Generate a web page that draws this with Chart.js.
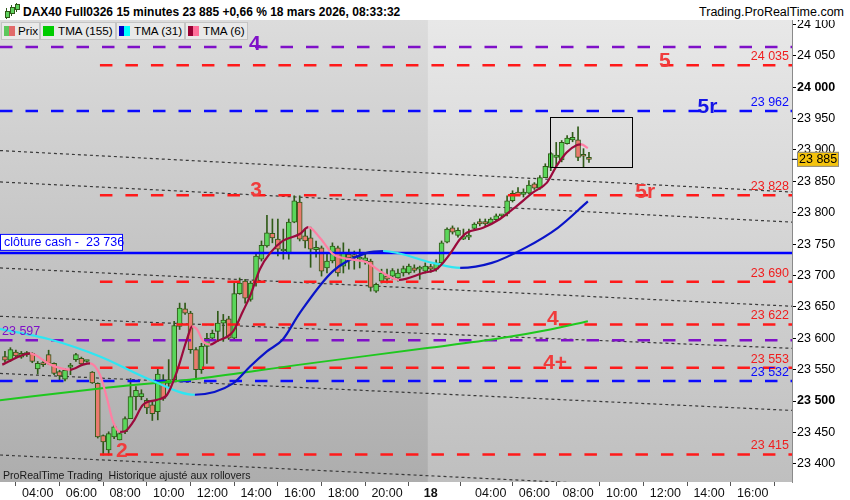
<!DOCTYPE html>
<html><head><meta charset="utf-8">
<script src="https://cdn.jsdelivr.net/npm/chart.js@4.4.1/dist/chart.umd.min.js"></script>
<style>
html,body{margin:0;padding:0;background:#fff;}
#wrap{position:relative;width:850px;height:500px;overflow:hidden;font-family:"Liberation Sans",Arial,sans-serif;}
#c{position:absolute;left:0;top:0;}
#hdr{position:absolute;left:0;top:0;width:850px;height:20px;background:#fff;}
#title{position:absolute;left:23px;top:4px;font-weight:bold;font-size:12px;line-height:16px;color:#000;white-space:nowrap;}
#site{position:absolute;right:6px;top:4px;font-size:12.5px;line-height:16px;color:#000;white-space:nowrap;}
#ico{position:absolute;left:4px;top:3px;width:16px;height:16px;}
#ico i{position:absolute;display:block;}
.lg{position:absolute;top:22px;height:16px;background:#e9e9e9;border:1px solid #c4c4c4;font-size:11.7px;line-height:16px;color:#000;white-space:nowrap;box-sizing:content-box;}
.lg .sw{position:absolute;left:2px;top:3px;height:10px;}
.lg .sw b{display:inline-block;height:10px;vertical-align:top;}
.lg span.t{position:absolute;top:0;}
#foot{position:absolute;left:3px;top:468px;font-size:10.6px;line-height:14px;color:#1a1a1a;white-space:pre;}
</style>
</head><body>
<div id="wrap">
<canvas id="c" width="850" height="500"></canvas>
<div id="hdr">
  <div id="ico">
    <i style="left:2px;top:5px;width:1px;height:11px;background:#2f5a17"></i>
    <i style="left:1px;top:8px;width:3px;height:5px;background:#5fd35f;border:1px solid #2f5a17"></i>
    <i style="left:7px;top:2px;width:1px;height:11px;background:#2f5a17"></i>
    <i style="left:6px;top:4px;width:3px;height:5px;background:#5fd35f;border:1px solid #2f5a17"></i>
    <i style="left:12px;top:0px;width:1px;height:9px;background:#2f5a17"></i>
    <i style="left:11px;top:1px;width:3px;height:4px;background:#5fd35f;border:1px solid #2f5a17"></i>
  </div>
  <div id="title">DAX40 Full0326 15 minutes 23 885 +0,66 % 18 mars 2026, 08:33:32</div>
  <div id="site">Trading.ProRealTime.com</div>
</div>
<div class="lg" style="left:1px;width:37px"><span class="sw"><b style="width:5px;background:#5cc85c"></b><b style="width:6px;background:#e26a6a"></b></span><span class="t" style="left:16px">Prix</span></div>
<div class="lg" style="left:40px;width:74px"><span class="sw"><b style="width:11px;background:#00cc00"></b></span><span class="t" style="left:17px">TMA (155)</span></div>
<div class="lg" style="left:116px;width:67px"><span class="sw"><b style="width:5px;background:#0000c8"></b><b style="width:6px;background:#00ffff"></b></span><span class="t" style="left:17px">TMA (31)</span></div>
<div class="lg" style="left:185px;width:61px"><span class="sw"><b style="width:5px;background:#990033"></b><b style="width:6px;background:#ff6f9a"></b></span><span class="t" style="left:17px">TMA (6)</span></div>
<div id="foot">ProRealTime Trading  Historique ajusté aux rollovers</div>
</div>
<script>
const FONT = '"Liberation Sans", Arial, sans-serif';

// ---- candles (15 min), index 0 = 17 mars 02:30 ... 107 = 18 mars 08:30
const opens  = [23571,23565,23578,23570,23574,23576,23551,23560,23574,23560,23547,23535,23554,23566,23568,23563,23546,23528,23445,23422,
                23443,23438,23451,23472,23507,23507,23501,23494,23483,23534,23528,23534,23619,23647,23640,23582,23550,23587,23600,23611,
                23624,23631,23600,23671,23691,23662,23688,23726,23747,23767,23758,23739,23736,23785,23817,23763,23760,23741,23744,23712,
                23723,23744,23715,23734,23731,23726,23723,23723,23675,23691,23699,23699,23696,23704,23704,23712,23710,23707,23714,23710,
                23720,23753,23776,23764,23758,23761,23775,23786,23786,23783,23789,23795,23799,23819,23833,23829,23831,23846,23839,23856,
                23872,23888,23884,23910,23916,23916,23893,23888];
const highs  = [23579,23585,23581,23579,23579,23577,23563,23566,23581,23561,23549,23552,23560,23576,23570,23565,23547,23529,23446,23451,
                23464,23451,23475,23536,23523,23518,23504,23499,23552,23542,23566,23627,23656,23656,23643,23585,23592,23608,23613,23643,
                23638,23635,23688,23696,23694,23691,23736,23755,23796,23790,23790,23774,23790,23827,23827,23774,23777,23755,23747,23736,
                23752,23747,23752,23742,23739,23742,23734,23726,23688,23710,23710,23711,23710,23715,23718,23717,23715,23720,23718,23725,
                23755,23776,23779,23776,23774,23774,23784,23790,23790,23792,23798,23797,23827,23835,23840,23838,23851,23848,23859,23878,
                23896,23912,23915,23923,23928,23937,23902,23896];
const lows   = [23562,23563,23569,23568,23571,23561,23543,23555,23558,23542,23534,23532,23542,23563,23558,23562,23528,23441,23414,23414,
                23440,23438,23448,23472,23486,23502,23480,23469,23470,23501,23523,23531,23614,23638,23576,23534,23544,23560,23598,23595,
                23595,23598,23598,23670,23656,23659,23683,23723,23745,23752,23731,23726,23726,23784,23755,23744,23713,23729,23699,23704,
                23720,23699,23704,23710,23710,23712,23718,23675,23673,23688,23688,23694,23691,23699,23702,23705,23694,23704,23705,23707,
                23718,23752,23766,23761,23757,23757,23773,23779,23779,23782,23787,23793,23795,23817,23827,23825,23830,23837,23837,23856,
                23867,23872,23881,23909,23913,23883,23873,23880];
const closes = [23565,23582,23572,23576,23576,23563,23560,23558,23560,23544,23540,23549,23555,23574,23559,23564,23529,23443,23435,23448,
                23459,23448,23472,23507,23517,23512,23489,23480,23543,23504,23534,23620,23648,23640,23582,23550,23587,23600,23608,23624,
                23629,23600,23671,23688,23664,23688,23731,23748,23768,23760,23742,23741,23785,23819,23758,23755,23742,23745,23707,23723,
                23747,23704,23736,23728,23730,23729,23728,23681,23686,23704,23694,23708,23704,23711,23715,23708,23711,23715,23710,23720,
                23752,23774,23769,23772,23762,23762,23782,23782,23782,23790,23795,23796,23819,23831,23828,23833,23844,23839,23856,23874,
                23894,23892,23912,23919,23920,23888,23890,23885];

// ---- moving averages (index, price)
const tma155X = [-1, 17.4, 35.7, 54.1, 77, 90.7, 99.9, 106.8];
const tma155Y = [23501, 23520, 23536, 23558, 23584, 23600, 23614, 23627];
const tma31X = [-1, 8.3, 17.4, 26.6, 34.8, 41.8, 44.9, 48, 50.9, 54, 60.1, 66.3, 69.3, 78.4, 83.4, 89.2, 95.3, 101.3, 106.8];
const tma31Y = [23615, 23598, 23571, 23534, 23510, 23528, 23555, 23579, 23598, 23640, 23707, 23736, 23739, 23720, 23712, 23720, 23744, 23776, 23818];
const tma6X = [-0.5, 4.6, 8.3, 11.9, 14.3, 15.6, 17.4, 18.7, 19.8, 21.1, 22, 23.5, 25.3, 27.9, 29.7, 31.5, 33.4, 34.3, 35.2, 36.3,
               37.6, 38.8, 41.8, 43.6, 44.9, 46.7, 48.6, 50.9, 54, 55.6, 57.7, 60.1, 63.2, 66.3, 68.7, 72.2, 76.6, 79.2, 81.5, 83.4,
               84.6, 87.6, 90.7, 93.8, 96.7, 99.3, 101.1, 102.9, 104.8, 105.6, 106.8];
const tma6Y = [23558, 23576, 23558, 23550, 23558, 23560, 23542, 23504, 23467, 23451, 23452, 23467, 23494, 23502, 23510, 23547, 23600, 23619, 23614, 23595,
               23590, 23595, 23611, 23643, 23667, 23710, 23736, 23755, 23766, 23777, 23760, 23734, 23726, 23721, 23707, 23693, 23704, 23711, 23734, 23758,
               23768, 23776, 23790, 23811, 23832, 23848, 23875, 23896, 23908, 23909, 23903];

// ---- horizontal levels and channel lines
const levelValues = [24064, 24035, 23962, 23828, 23736, 23690, 23622, 23597, 23553, 23532, 23415];
const levelKinds  = ['purple','red','blue','red','solid','red','red','purple','red','blue','red'];
const channelStart = [23899, 23849, 23712, 23635, 23544, 23414];
const channelEnd   = [23833, 23785, 23651, 23584, 23485, 23353];

// ---- axes
const yTicks = [23400,23450,23500,23550,23600,23650,23700,23750,23800,23850,23900,23950,24000,24050,24100];
const xTickIdx  = [6,14,22,30,38,46,54,62,70,78,89,97,105,113,121,129,137];
const xTickText = ['04:00','06:00','08:00','10:00','12:00','14:00','16:00','18:00','20:00','18','04:00','06:00','08:00','10:00','12:00','14:00','16:00'];

const lastPrice = 23885;
const X_MIN = -0.91, X_MAX = 144.2, Y_MIN = 23371, Y_MAX = 24107;
const DAY_SPLIT = 77.5, RED_START = 17.4;
const boxIdx = [99.9, 114.9], boxPrice = [23873, 23952];

const marks = [
  {text:'4',  idx:45.8,  price:24069, color:'#7f10c8'},
  {text:'5',  idx:120.9, price:24041, color:'#f03c3c'},
  {text:'5r', idx:128.7, price:23968, color:'#1414e6'},
  {text:'3',  idx:46,    price:23836, color:'#f03c3c'},
  {text:'5r', idx:117.3, price:23833, color:'#f03c3c'},
  {text:'4',  idx:100.4, price:23630, color:'#f03c3c'},
  {text:'4+', idx:100.8, price:23560, color:'#f03c3c'},
  {text:'2',  idx:21.4,  price:23420, color:'#f03c3c'}
];

const fmt = v => String(v).replace(/\B(?=(\d{3})+(?!\d))/g, ' ');

const KIND = {
  purple: {color:'#7f10c8', dash:[12.5,13], w:2.5},
  red:    {color:'#ff1a1a', dash:[12.5,13], w:2.5},
  blue:   {color:'#0a0aff', dash:[12.5,13], w:2.5},
  solid:  {color:'#0000ff', dash:[], w:2.5}
};

const UP = '#5ad65a', DOWN = '#ea7a6e', EDGE = '#2f5a17';
const idx = opens.map((_, i) => i);

const datasets = [];
channelStart.forEach((s, k) => {
  datasets.push({type:'line', data:[{x:X_MIN, y:s},{x:X_MAX, y:channelEnd[k]}], borderColor:'#3a3a3a',
    borderWidth:1.2, borderDash:[3,3], pointRadius:0, order:20});
});
datasets.push({type:'bar', data: idx.map(i => ({x:i, y:[lows[i], highs[i]]})), backgroundColor:EDGE,
  barThickness:1, grouped:false, order:15});
datasets.push({type:'bar', data: idx.map(i => ({x:i, y:[opens[i], closes[i]]})),
  backgroundColor: idx.map(i => closes[i] >= opens[i] ? UP : DOWN), borderColor:EDGE, borderWidth:1,
  borderSkipped:false, barThickness:5, minBarLength:2, grouped:false, order:14});
levelValues.forEach((v, k) => {
  const st = KIND[levelKinds[k]];
  const from = levelKinds[k] === 'red' ? RED_START : X_MIN;
  datasets.push({type:'line', data:[{x:from, y:v},{x:X_MAX, y:v}], borderColor:st.color, borderWidth:st.w,
    borderDash:st.dash, pointRadius:0, order:10});
});
const slopeColor = (up, down) => c => c.p1.parsed.y >= c.p0.parsed.y ? up : down;
datasets.push({type:'line', data: tma155X.map((x, k) => ({x, y:tma155Y[k]})), borderColor:'#1ec81e', borderWidth:2,
  pointRadius:0, cubicInterpolationMode:'monotone', order:3});
datasets.push({type:'line', data: tma31X.map((x, k) => ({x, y:tma31Y[k]})), borderColor:'#0a14c8', borderWidth:2.2,
  pointRadius:0, cubicInterpolationMode:'monotone', segment:{borderColor: slopeColor('#0a14c8', '#2ee6f2')}, order:2});
datasets.push({type:'line', data: tma6X.map((x, k) => ({x, y:tma6Y[k]})), borderColor:'#9b0a3c', borderWidth:2.2,
  pointRadius:0, cubicInterpolationMode:'monotone', segment:{borderColor: slopeColor('#9b0a3c', '#ff7fa3')}, order:1});

const bgPlugin = {
  id:'bg',
  beforeDraw(chart) {
    const {ctx, chartArea:a, scales:{x}} = chart;
    ctx.save();
    ctx.fillStyle = '#fff';
    ctx.fillRect(0, 0, chart.width, chart.height);
    const split = x.getPixelForValue(DAY_SPLIT);
    const g1 = ctx.createLinearGradient(0, a.top, 0, a.bottom);
    g1.addColorStop(0, '#dcdcdc'); g1.addColorStop(1, '#adadad');
    ctx.fillStyle = g1; ctx.fillRect(a.left, a.top, split - a.left, a.bottom - a.top);
    const g2 = ctx.createLinearGradient(0, a.top, 0, a.bottom);
    g2.addColorStop(0, '#e8e8e8'); g2.addColorStop(1, '#bfbfbf');
    ctx.fillStyle = g2; ctx.fillRect(split, a.top, a.right - split, a.bottom - a.top);
    ctx.restore();
  }
};

const annotPlugin = {
  id:'annot',
  afterDatasetsDraw(chart) {
    const {ctx, chartArea:a, scales:{x, y}} = chart;
    ctx.save();
    ctx.beginPath(); ctx.rect(a.left, a.top, a.right - a.left, a.bottom - a.top); ctx.clip();
    const bx0 = x.getPixelForValue(boxIdx[0]), bx1 = x.getPixelForValue(boxIdx[1]);
    const by0 = y.getPixelForValue(boxPrice[1]), by1 = y.getPixelForValue(boxPrice[0]);
    ctx.strokeStyle = '#000'; ctx.lineWidth = 1;
    ctx.strokeRect(Math.round(bx0) + 0.5, Math.round(by0) + 0.5, Math.round(bx1 - bx0), Math.round(by1 - by0));
    ctx.textAlign = 'center'; ctx.textBaseline = 'middle';
    ctx.font = 'bold 21px ' + FONT;
    marks.forEach(m => { ctx.fillStyle = m.color; ctx.fillText(m.text, x.getPixelForValue(m.idx), y.getPixelForValue(m.price)); });
    ctx.font = '12.5px ' + FONT; ctx.textAlign = 'right';
    levelValues.forEach((v, k) => {
      const kind = levelKinds[k];
      if (kind !== 'red' && kind !== 'blue') return;
      ctx.fillStyle = kind === 'red' ? '#f01e1e' : '#0a0aff';
      ctx.fillText(fmt(v), a.right - 3, y.getPixelForValue(v) - 8.5);
    });
    ctx.textAlign = 'left';
    const pv = levelValues[7];
    ctx.fillStyle = '#7f10c8';
    ctx.fillText(fmt(pv), 2, y.getPixelForValue(pv) - 9);
    const cv = levelValues[4], cy = y.getPixelForValue(cv);
    ctx.fillStyle = '#fff'; ctx.fillRect(0, cy - 19, 123, 17);
    ctx.strokeStyle = '#0000ff'; ctx.lineWidth = 1; ctx.strokeRect(0.5, cy - 18.5, 122, 16);
    ctx.fillStyle = '#0000ff';
    ctx.fillText('clôture cash -  ' + fmt(cv), 4, cy - 10);
    ctx.restore();
  },
  afterDraw(chart) {
    const {ctx, chartArea:a, scales:{y}} = chart;
    const py = y.getPixelForValue(lastPrice);
    ctx.save();
    ctx.fillStyle = '#f5c30c'; ctx.fillRect(a.right + 5, py - 7.5, 42, 15);
    ctx.strokeStyle = '#8a8a8a'; ctx.lineWidth = 1; ctx.strokeRect(a.right + 5.5, py - 7, 41, 14);
    ctx.strokeStyle = '#000'; ctx.beginPath(); ctx.moveTo(a.right, py); ctx.lineTo(a.right + 5, py); ctx.stroke();
    ctx.fillStyle = '#000'; ctx.font = '12.5px ' + FONT; ctx.textAlign = 'left'; ctx.textBaseline = 'middle';
    ctx.fillText(fmt(lastPrice), a.right + 7, py + 0.5);
    ctx.restore();
  }
};

new Chart(document.getElementById('c'), {
  type:'bar',
  data:{datasets},
  options:{
    responsive:false, animation:false, devicePixelRatio:1,
    layout:{padding:{top:20, left:0, right:0, bottom:0}},
    plugins:{legend:{display:false}, tooltip:{enabled:false}},
    scales:{
      x:{type:'linear', min:X_MIN, max:X_MAX, offset:false,
        afterBuildTicks(s){ s.ticks = xTickIdx.map(v => ({value:v})); },
        afterFit(s){ s.height = 18; },
        grid:{display:true, drawOnChartArea:false, drawTicks:true, tickLength:4, color:'#555'},
        border:{display:false},
        ticks:{autoSkip:false, maxRotation:0, padding:0, color:'#111',
          font: c => ({family:FONT, size:12.5, weight: (c.index === 9) ? 'bold' : 'normal'}),
          callback:(v, i) => xTickText[i]}
      },
      y:{type:'linear', position:'right', min:Y_MIN, max:Y_MAX,
        afterBuildTicks(s){ s.ticks = yTicks.map(v => ({value:v})); },
        afterFit(s){ s.width = 58; },
        grid:{display:true, drawOnChartArea:false, drawTicks:true, tickLength:4, color:'#000'},
        border:{display:true, color:'#8a8a8a'},
        ticks:{padding:1, color:'#000',
          font: c => ({family:FONT, size:12.5, weight: (c.tick && c.tick.value % 500 === 0) ? 'bold' : 'normal'}),
          callback: v => fmt(v)}
      }
    }
  },
  plugins:[bgPlugin, annotPlugin]
});
</script>
</body></html>
